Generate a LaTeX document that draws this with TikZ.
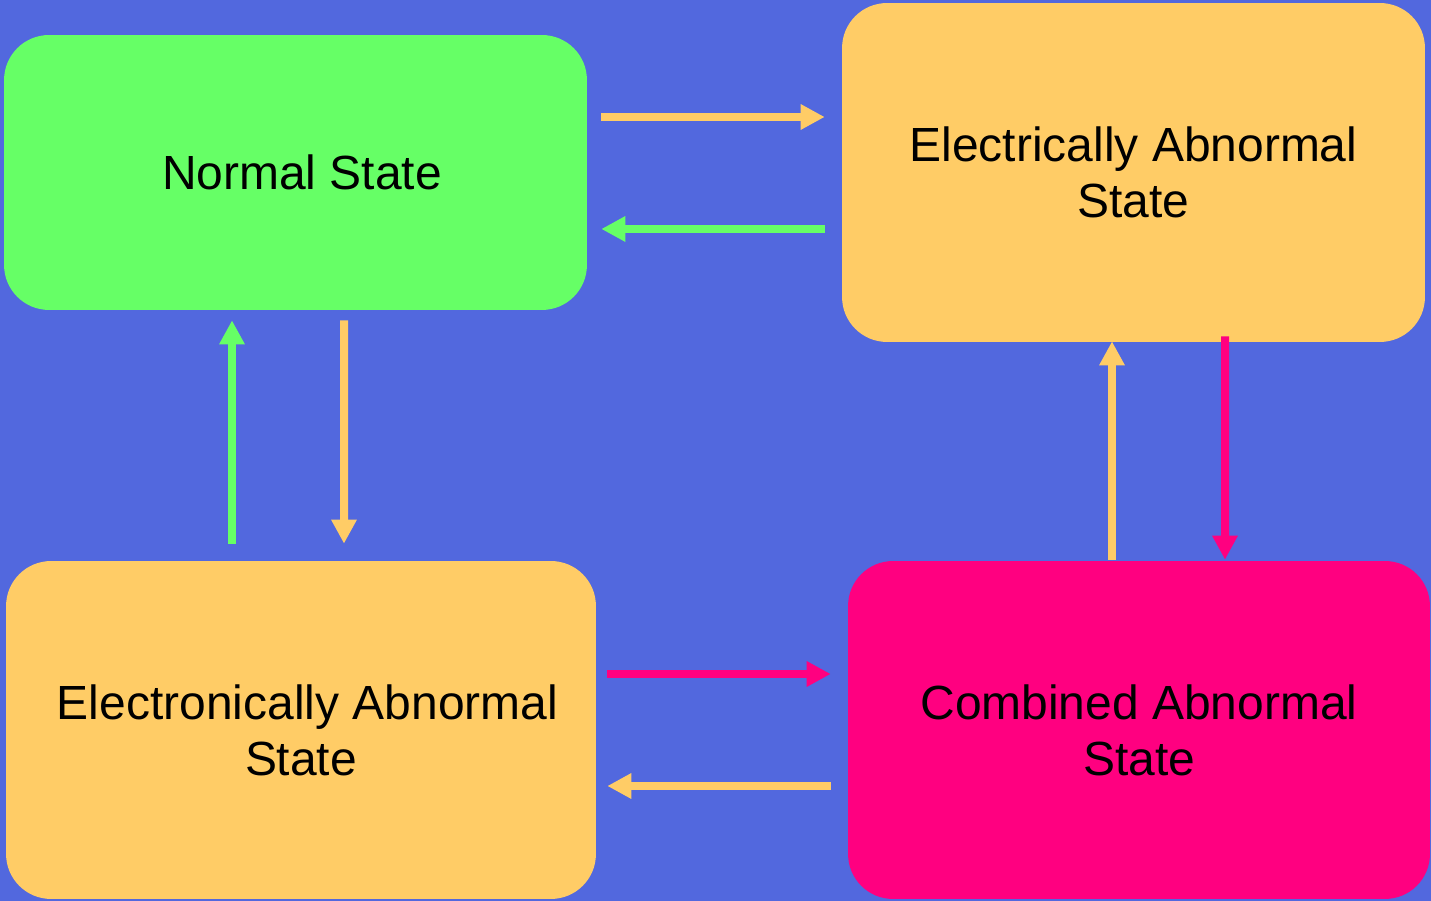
\documentclass[tikz,border=0pt]{standalone}
\usepackage{fontspec}
\setmainfont{Liberation Sans}
\usetikzlibrary{arrows.meta,calc}
\definecolor{bgblue}{HTML}{5268DE}
\definecolor{stgreen}{HTML}{66FF66}
\definecolor{storange}{HTML}{FFCC66}
\definecolor{stpink}{HTML}{FF0080}
\begin{document}
\begin{tikzpicture}[x=0.02cm,y=-0.02cm,
  statebox/.style={rectangle, rounded corners=0.9cm, inner sep=0pt,
    align=center, font=\fontsize{27.3}{32}\selectfont, text=black},
  trans/.style={line width=0.16cm, -{Triangle[length=0.48cm,width=0.48cm]}},
]
% backdrop
\fill[bgblue] (0,0) rectangle (1431,901);
\useasboundingbox (0,0) rectangle (1431,901);

% the four states
\node[statebox, fill=stgreen, minimum width=11.66cm, minimum height=5.5cm]
  (normal) at (295.5,172.5) {\hspace*{0.26cm}Normal State};
\node[statebox, fill=storange, minimum width=11.66cm, minimum height=6.78cm]
  (elec) at (1133.5,172.5) {Electrically Abnormal\\State};
\node[statebox, fill=storange, minimum width=11.8cm, minimum height=6.76cm]
  (etron) at (301,730) {\hspace*{0.26cm}Electronically Abnormal\\State};
\node[statebox, fill=stpink, minimum width=11.64cm, minimum height=6.76cm]
  (comb) at (1139,730) {Combined Abnormal\\State};

% transitions: normal <-> electrical
\draw[trans, storange] ($(normal.east)+(14,-55.5)$) -- ($(elec.west)+(-17,-55.5)$);
\draw[trans, stgreen] ($(elec.west)+(-17,56.5)$) -- ($(normal.east)+(14,56.5)$);

% normal <-> electronic
\draw[trans, stgreen] ($(etron.north)+(-69,-17)$) -- ($(normal.south)+(-63.5,10)$);
\draw[trans, storange] ($(normal.south)+(48.5,10)$) -- ($(etron.north)+(43,-17)$);

% electrical <-> combined
\draw[trans, storange] ($(comb.north)+(-27,-1)$) -- ($(elec.south)+(-21.5,-1)$);
\draw[trans, stpink] ($(elec.south)+(91.5,-6)$) -- ($(comb.north)+(86,-1)$);

% electronic <-> combined
\draw[trans, stpink] ($(etron.east)+(11,-56)$) -- ($(comb.west)+(-17,-56)$);
\draw[trans, storange] ($(comb.west)+(-17,56)$) -- ($(etron.east)+(11,56)$);
\end{tikzpicture}
\end{document}
